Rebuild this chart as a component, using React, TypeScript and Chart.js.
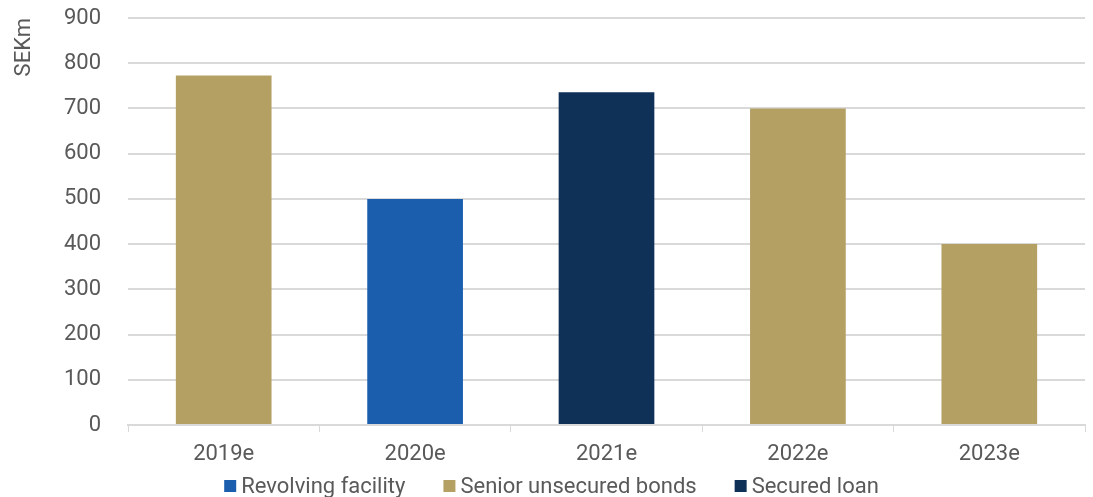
import React, { useEffect, useRef } from "react";
import { Chart, registerables } from "chart.js";

Chart.register(...registerables);

const categories = ["2019e", "2020e", "2021e", "2022e", "2023e"];
const revolvingFacility = [0, 500, 0, 0, 0];
const seniorUnsecuredBonds = [773, 0, 0, 700, 400];
const securedLoan = [0, 0, 736, 0, 0];
const yTicks = [0, 100, 200, 300, 400, 500, 600, 700, 800, 900];

const FONT = "Roboto, 'Noto Sans', sans-serif";
const TEXT = "#595959";

const customLegend = {
  id: "customLegend",
  afterDraw(chart: any) {
    const ctx = chart.ctx as CanvasRenderingContext2D;
    ctx.save();
    ctx.font = `22px ${FONT}`;
    const box = 12;
    const gap = 5;
    const spacing = 38;
    const items = chart.data.datasets.map((ds: any) => ({
      text: ds.label as string,
      color: ds.backgroundColor as string,
      w: ctx.measureText(ds.label).width,
    }));
    const total =
      items.reduce((s: number, it: any) => s + box + gap + it.w, 0) + spacing * (items.length - 1);
    let x = chart.width / 2 + 5 - total / 2;
    const y = chart.height - 11;
    ctx.textBaseline = "middle";
    ctx.textAlign = "left";
    for (const it of items) {
      ctx.fillStyle = it.color;
      ctx.fillRect(x, y - box / 2, box, box);
      ctx.fillStyle = TEXT;
      ctx.fillText(it.text, x + box + gap, y + 1);
      x += box + gap + it.w + spacing;
    }
    ctx.restore();
  },
};

export default function App() {
  const ref = useRef<HTMLCanvasElement>(null);
  useEffect(() => {
    const chart = new Chart(ref.current!, {
      type: "bar",
      data: {
        labels: categories,
        datasets: [
          { label: "Revolving facility", data: revolvingFacility, backgroundColor: "#1B5EAE" },
          { label: "Senior unsecured bonds", data: seniorUnsecuredBonds, backgroundColor: "#B5A064" },
          { label: "Secured loan", data: securedLoan, backgroundColor: "#0F3158" },
        ],
      },
      plugins: [customLegend],
      options: {
        animation: false,
        responsive: true,
        maintainAspectRatio: false,
        layout: { padding: { left: 0, right: 8, top: 18, bottom: 27 } },
        datasets: { bar: { barPercentage: 1, categoryPercentage: 0.5 } },
        plugins: {
          legend: { display: false },
          tooltip: { enabled: false },
        },
        scales: {
          x: {
            stacked: true,
            afterFit: (s: any) => {
              s.height = 45;
            },
            grid: { display: true, drawOnChartArea: false, drawTicks: true, tickLength: 7, color: "#d9d9d9", offset: true },
            border: { color: "#d9d9d9", width: 2 },
            ticks: { color: TEXT, font: { family: FONT, size: 22 }, padding: 9 },
          },
          y: {
            stacked: true,
            min: 0,
            max: 900,
            afterBuildTicks: (axis: any) => {
              axis.ticks = yTicks.map((v) => ({ value: v }));
            },
            afterFit: (s: any) => {
              s.width = 128;
              s.paddingTop = 0;
              s.paddingBottom = 0;
            },
            grid: { color: "#d9d9d9", lineWidth: 2, drawTicks: false },
            border: { display: false },
            ticks: { color: TEXT, font: { family: FONT, size: 22 }, padding: 27 },
            title: {
              display: true,
              text: "SEKm",
              align: "end",
              color: TEXT,
              font: { family: FONT, size: 22 },
              padding: { top: 11, bottom: 0 },
            },
          },
        },
      },
    });
    return () => chart.destroy();
  }, []);
  return (
    <div style={{ position: "fixed", left: 0, top: 0, width: 1093, height: 497 }}>
      <canvas ref={ref} />
    </div>
  );
}
